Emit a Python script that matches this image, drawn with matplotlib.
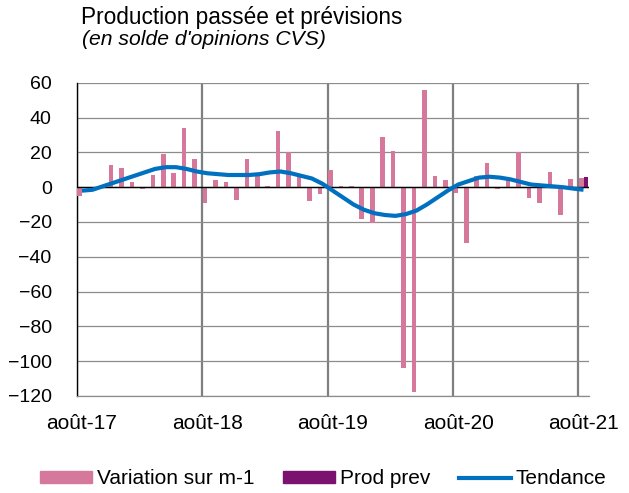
import numpy as np
import matplotlib
matplotlib.use('Agg')
from matplotlib import pyplot as plt
from matplotlib.patches import Patch
from matplotlib.lines import Line2D

# Monthly data, août-17 .. août-21 (49 months)
variation = [-5, 0, 0, 13, 11, 3, -1, 7, 19, 8, 34, 16,
             -9, 4, 3, -7.5, 16, 6.5, 0.5, 32.5, 20, 6.5, -8, -4,
             10, 0.5, 0.5, -18.5, -20.5, 29, 21, -104, -118, 56, 6.5, 4,
             -3.5, -32, 6.5, 14, -1, 4, 20.5, -6, -9, 8.5, -16, 4.5,
             5]
tendance = [-2, -1.5, 0.5, 2.5, 4.5, 6.5, 8.5, 10.5, 11.5, 11.5, 10.5, 9,
            8, 7.5, 7, 7, 7, 7.5, 8.5, 9, 8, 6.5, 5, 2,
            -2, -6, -10, -13, -15, -16, -16.5, -15.5, -13.5, -10, -6, -2,
            1.5, 3.5, 5.5, 6, 5.5, 4.5, 3, 1.5, 1, 0.5, 0, -0.8,
            -1.5]
prod_prev_month = [48]
prod_prev = [6]
tick_months = [0, 12, 24, 36, 48]
tick_labels = ['août-17', 'août-18', 'août-19', 'août-20', 'août-21']

plt.rcParams['font.family'] = ['Liberation Sans', 'DejaVu Sans']

pink = '#D6789B'
purple = '#7B1270'
blue = '#0070C0'

fig = plt.figure(figsize=(6.29, 4.93), dpi=100)
ax = fig.add_axes([0.122, 0.197, 0.814, 0.635])

n = len(variation)
x = np.arange(n)
w = 0.44
ax.bar(x + 0.28, variation, width=w, color=pink, zorder=3)
ax.bar(np.array(prod_prev_month) + 0.72, prod_prev, width=w, color=purple, zorder=3)
ax.plot(x + 0.5, tendance, color=blue, lw=3, zorder=4, solid_capstyle='butt')

ax.set_xlim(0, n)
ax.set_ylim(-120, 60)
ax.set_yticks(np.arange(-120, 61, 20))
ax.yaxis.grid(True, color='#8C8C8C', lw=0.9, zorder=0)
ax.axhline(0, color='black', lw=1, zorder=3.5)

ax.set_xticks(np.array(tick_months) + 0.5)
ax.set_xticklabels(tick_labels)
ax.set_xticks(tick_months, minor=True)
ax.xaxis.grid(True, which='minor', color='#7F7F7F', lw=1.6, zorder=1)
ax.tick_params(axis='x', which='both', length=0, pad=13, labelsize=15)
ax.tick_params(axis='y', length=0, pad=18, labelsize=14)

for s in ['top', 'right']:
    ax.spines[s].set_visible(False)
ax.spines['left'].set_color('black')
ax.spines['left'].set_linewidth(1)
ax.spines['bottom'].set_color('#8C8C8C')
ax.spines['bottom'].set_linewidth(0.9)

fig.text(0.128, 0.952, 'Production passée et prévisions', fontsize=16.3,
         va='baseline')
fig.text(0.131, 0.908, "(en solde d'opinions CVS)", fontsize=15.2,
         style='italic', va='baseline')

handles = [Patch(color=pink), Patch(color=purple),
           Line2D([], [], color=blue, lw=3)]
fig.legend(handles, ['Variation sur m-1', 'Prod prev', 'Tendance'],
           loc='center', bbox_to_anchor=(0.514, 0.029), ncol=3, frameon=False,
           fontsize=15, handlelength=2.5, handleheight=0.48,
           handletextpad=0.25, columnspacing=1.35)

fig.savefig('out.png', dpi=100)
